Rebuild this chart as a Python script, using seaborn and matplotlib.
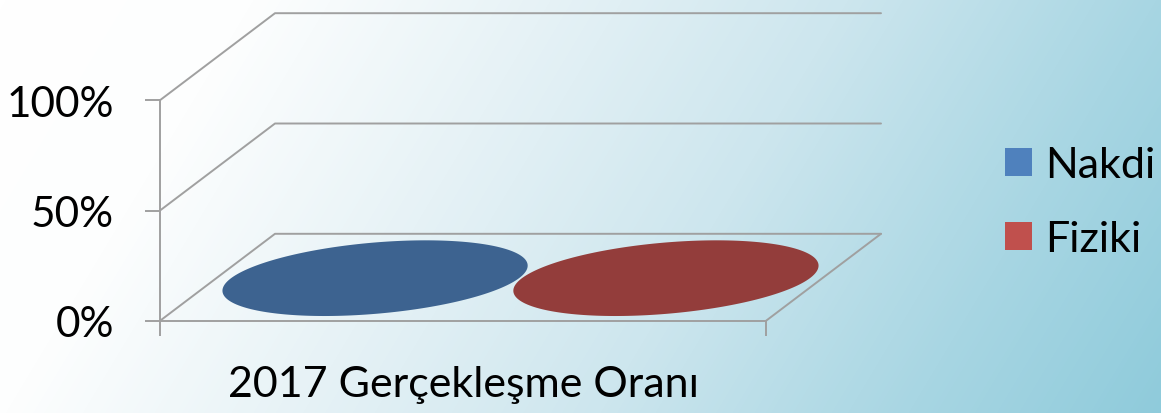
import numpy as np
import pandas as pd
import matplotlib
matplotlib.use('Agg')
import matplotlib.pyplot as plt
from matplotlib.colors import LinearSegmentedColormap
import seaborn as sns

# chart values
category = ['2017 Gerçekleşme Oranı']
series = ['Nakdi', 'Fiziki']
values = [0, 0]
y_ticks = [0, 50, 100]
y_labels = ['0%', '50%', '100%']
legend_colors = ['#4f81bd', '#c0504d']
top_colors = ['#3d6390', '#933d3b']

grid_color = '#a0a0a0'
W, H = 1161, 414
FS = 31

sns.set_theme(style='ticks')
plt.rcParams['font.family'] = ['Lato', 'DejaVu Sans']

fig = plt.figure(figsize=(W / 100, H / 100), dpi=100)

# diagonal background gradient
bg = fig.add_axes([0, 0, 1, 1], zorder=0)
xx, yy = np.meshgrid(np.arange(W), np.arange(H))
t = (xx + 0.6 * yy) / (W + 0.6 * H)
cmap = LinearSegmentedColormap.from_list('bg', [
    (0.0, '#ffffff'), (0.18, '#fdfefe'), (0.39, '#e6f2f6'),
    (0.6, '#cde6ee'), (0.82, '#a8d6e3'), (1.0, '#8fcbdb')])
bg.imshow(t, cmap=cmap, vmin=0, vmax=1, aspect='auto')
bg.axis('off')

# front plane of the chart, pixel box 160..766 / 101..321
ax = fig.add_axes([160 / W, (H - 321.8) / H, 606 / W, 220.6 / H], zorder=1)
ax.patch.set_visible(False)

df = pd.DataFrame({'period': category * len(series), 'series': series, 'value': values})
sns.barplot(data=df, x='period', y='value', hue='series', hue_order=series,
            palette=legend_colors, saturation=1, linewidth=0, width=0.96, gap=0, ax=ax)

ax.set_xlim(-0.5, 0.5)
ax.set_ylim(0, 100)

# oblique depth offset, in axis units
depth_x = 115 / 606
depth_y = 87 / 2.206

# back walls and floor
for v in y_ticks:
    ax.plot([-0.5, -0.5 + depth_x, 0.5 + depth_x], [v, v + depth_y, v + depth_y],
            color=grid_color, lw=1.4, clip_on=False, zorder=2)
ax.plot([0.5 + depth_x, 0.5], [depth_y, 0], color=grid_color, lw=1.4, clip_on=False, zorder=2)

# zero height cylinders: only the top disc of each bar is left
angle = np.linspace(0, 2 * np.pi, 200)
for bar, value, color in zip(ax.patches, values, top_colors):
    cx = bar.get_x() + bar.get_width() / 2
    a = 0.99 * bar.get_width() / 2
    px = cx + 0.5 * depth_x + a * np.cos(angle) + 0.44 * depth_x * np.sin(angle)
    py = value + 0.49 * depth_y + 0.435 * depth_y * np.sin(angle)
    ax.fill(px, py, color=color, lw=0, clip_on=False, zorder=3)

ax.set_xlim(-0.5, 0.5)
ax.set_ylim(0, 100)

sns.despine(ax=ax)
for side in ['left', 'bottom']:
    ax.spines[side].set_color(grid_color)
    ax.spines[side].set_linewidth(1.4)

ax.set_xlabel('')
ax.set_ylabel('')
ax.set_yticks(y_ticks)
ax.set_yticklabels(y_labels)
ax.tick_params(axis='y', length=11, width=1.4, color=grid_color, labelsize=30.5,
               labelcolor='black', pad=22)
ax.set_xticks([-0.5, 0.5])
ax.set_xticklabels(['', ''])
ax.tick_params(axis='x', which='major', length=11, width=1.4, color=grid_color)
ax.set_xticks([0], labels=category, minor=True)
ax.tick_params(axis='x', which='minor', length=0, labelsize=FS, labelcolor='black', pad=32)

sns.move_legend(ax, 'upper left', bbox_to_anchor=(1005 / W, (H - 147) / H),
                bbox_transform=fig.transFigure, title=None, frameon=False,
                fontsize=FS, labelcolor='black', handlelength=0.63, handleheight=0.63,
                handletextpad=0.3, labelspacing=0.84, borderpad=0, borderaxespad=0)
for handle in ax.get_legend().legend_handles:
    handle.set_linewidth(0)
    handle.set_edgecolor('none')

fig.savefig('out.png', dpi=100)
